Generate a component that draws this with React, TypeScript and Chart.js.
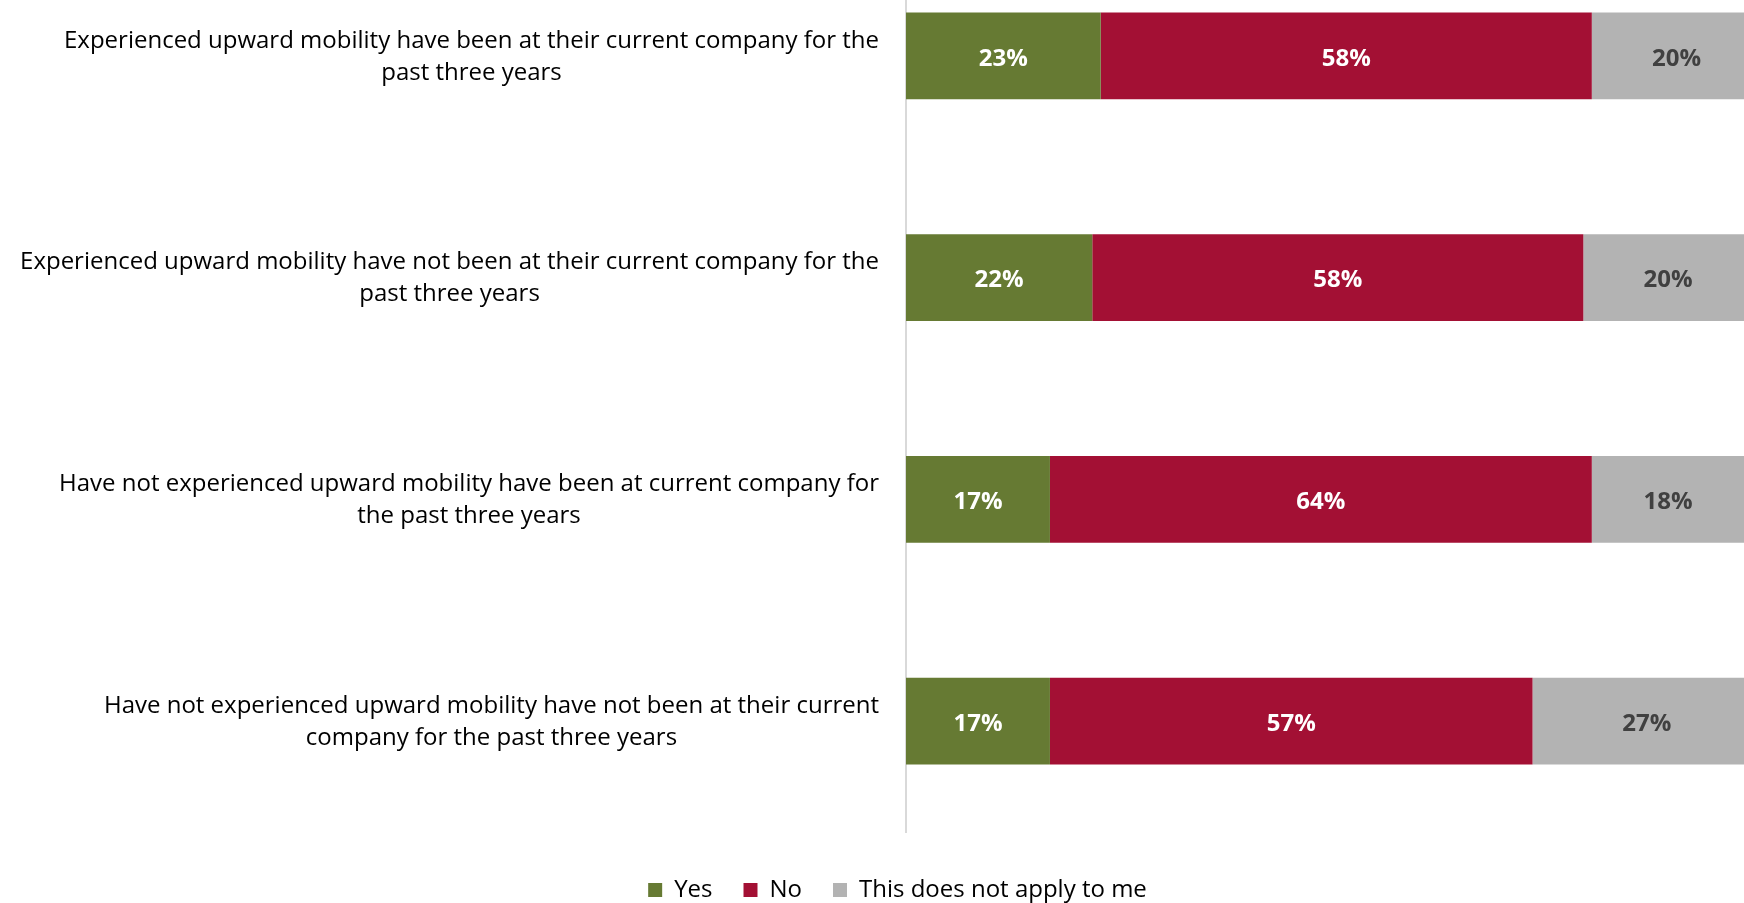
import React, { useEffect, useRef } from "react";
import { Chart, registerables } from "chart.js";

Chart.register(...registerables);

const categories: string[][] = [
  ["Experienced upward mobility have been at their current company for the", "past three years"],
  ["Experienced upward mobility have not been at their current company for the", "past three years"],
  ["Have not experienced upward mobility have been at current company for", "the past three years"],
  ["Have not experienced upward mobility have not been at their current", "company for the past three years"],
];
const yesValues = [23, 22, 17, 17];
const noValues = [58, 58, 64, 57];
const naValues = [20, 20, 18, 27];
const seriesNames = ["Yes", "No", "This does not apply to me"];
const seriesColors = ["#667a33", "#a31034", "#b3b3b3"];
const labelColors = ["#ffffff", "#ffffff", "#404040"];

const FONT = "'Open Sans', sans-serif";
const CAT_FONT_SIZE = 24;
const CAT_LINE_H = 32;
const VALUE_FONT_SIZE = 24;

const catLabelPlugin = {
  id: "catLabels",
  afterDraw(chart: any) {
    const ctx = chart.ctx;
    const y = chart.scales.y;
    ctx.save();
    ctx.font = `${CAT_FONT_SIZE}px ${FONT}`;
    ctx.fillStyle = "#000000";
    ctx.textBaseline = "middle";
    ctx.textAlign = "center";
    categories.forEach((lines, i) => {
      const cy = y.getPixelForTick(i) + 1;
      const widest = Math.max(...lines.map((l) => ctx.measureText(l).width));
      const cx = chart.chartArea.left - 27 - widest / 2;
      lines.forEach((l, j) => {
        ctx.fillText(l, cx, cy + (j - (lines.length - 1) / 2) * CAT_LINE_H);
      });
    });
    ctx.restore();
  },
};

const valueLabelPlugin = {
  id: "valueLabels",
  afterDatasetsDraw(chart: any) {
    const ctx = chart.ctx;
    ctx.save();
    ctx.font = `bold ${VALUE_FONT_SIZE}px ${FONT}`;
    ctx.textAlign = "center";
    ctx.textBaseline = "middle";
    chart.data.datasets.forEach((ds: any, di: number) => {
      const meta = chart.getDatasetMeta(di);
      meta.data.forEach((el: any, i: number) => {
        const v = ds.data[i];
        ctx.fillStyle = labelColors[di];
        ctx.fillText(`${v}%`, (el.x + el.base) / 2, el.y + 3);
      });
    });
    ctx.restore();
  },
};

export default function App() {
  const ref = useRef<HTMLCanvasElement | null>(null);
  useEffect(() => {
    if (!ref.current) return;
    const chart = new Chart(ref.current, {
      type: "bar",
      data: {
        labels: categories.map((c) => c.join(" ")),
        datasets: [yesValues, noValues, naValues].map((d, i) => ({
          label: seriesNames[i],
          data: d,
          backgroundColor: seriesColors[i],
          borderWidth: 0,
          categoryPercentage: 1,
          barPercentage: 0.392,
        })),
      },
      options: {
        indexAxis: "y",
        responsive: false,
        maintainAspectRatio: false,
        animation: false,
        layout: { padding: { top: 5, right: 5, left: 0, bottom: 0 } },
        scales: {
          x: { stacked: true, min: 0, max: 105, display: false },
          y: {
            stacked: true,
            grid: { display: false },
            border: { display: true, color: "#d9d9d9", width: 2 },
            ticks: { display: false },
            afterFit: (s: any) => {
              s.width = 906;
            },
          },
        },
        plugins: {
          tooltip: { enabled: false },
          legend: {
            position: "bottom",
            title: { display: true, text: "", font: { size: 10 }, padding: { top: 3, bottom: 0 } },
            labels: {
              boxWidth: 14,
              boxHeight: 14,
              padding: 31,
              color: "#000000",
              font: { size: 24, family: FONT },
            },
          },
        },
      },
      plugins: [catLabelPlugin, valueLabelPlugin],
    });
    return () => chart.destroy();
  }, []);
  return (
    <div style={{ position: "absolute", left: 0, top: 0, width: 1744, height: 903, overflow: "hidden", background: "#fff" }}>
      <canvas ref={ref} width={1800} height={972} style={{ position: "absolute", left: 0, top: -60, width: 1800, height: 972 }} />
    </div>
  );
}
